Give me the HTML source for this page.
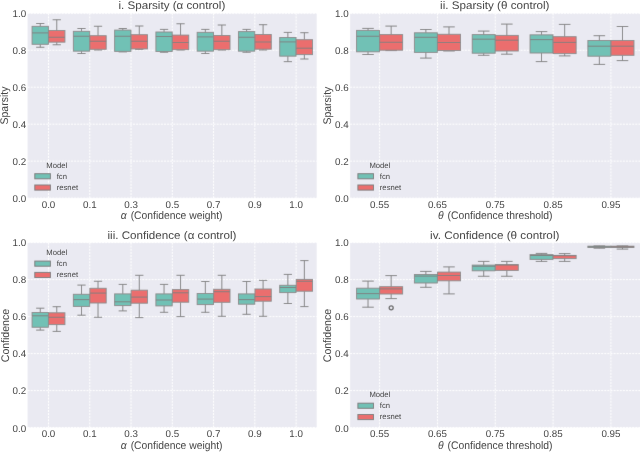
<!DOCTYPE html>
<html><head><meta charset="utf-8"><style>
html,body{margin:0;padding:0;background:#fff;}
svg{display:block;}
text{font-family:"Liberation Sans",sans-serif;fill:#454545;text-rendering:geometricPrecision;}
.tk{font-size:9.8px;}
.tt{font-size:11px;}
.lb{font-size:11px;}
.lg{font-size:7.7px;}
</style></head><body>
<svg width="640" height="454" viewBox="0 0 640 454">
<defs><filter id="bl" x="0" y="0" width="640" height="454" filterUnits="userSpaceOnUse"><feConvolveMatrix order="3" kernelMatrix="0.0052 0.0619 0.0052 0.0619 0.7314 0.0619 0.0052 0.0619 0.0052" edgeMode="duplicate" preserveAlpha="true"/></filter><filter id="blt" x="0" y="0" width="640" height="454" filterUnits="userSpaceOnUse"><feConvolveMatrix order="3" kernelMatrix="0.0000 0.0038 0.0000 0.0038 0.9847 0.0038 0.0000 0.0038 0.0000" edgeMode="duplicate"/></filter></defs>
<rect width="640" height="454" fill="#fff"/>
<g filter="url(#bl)">
<rect width="640" height="454" fill="#fff"/>
<rect x="27.6" y="13.3" width="289.1" height="184.8" fill="#eaeaf2"/>
<path d="M27.6 198.1H316.7M27.6 161.14H316.7M27.6 124.18H316.7M27.6 87.22H316.7M27.6 50.26H316.7M27.6 13.3H316.7M48.5 13.3V198.1M89.77 13.3V198.1M131.04 13.3V198.1M172.31 13.3V198.1M213.58 13.3V198.1M254.85 13.3V198.1M296.12 13.3V198.1" stroke="#fff" stroke-width="1" stroke-dasharray="2 1.1" fill="none"/>
<path d="M40.25 26.25V23.5M36.12 23.5H44.37M40.25 44.4V47.25M36.12 47.25H44.37" stroke="#7e7e7e" stroke-width="0.95" fill="none"/>
<rect x="32.09" y="26.35" width="16.31" height="17.95" fill="#71c1b5" stroke="#8a8a8a" stroke-width="0.95"/>
<path d="M32.09 32.9H48.4" stroke="#7e7e7e" stroke-width="0.95"/>
<path d="M56.75 30.4V19.75M52.63 19.75H60.88M56.75 42.25V44.75M52.63 44.75H60.88" stroke="#7e7e7e" stroke-width="0.95" fill="none"/>
<rect x="48.6" y="30.5" width="16.31" height="11.65" fill="#eb6e6e" stroke="#8a8a8a" stroke-width="0.95"/>
<path d="M48.6 37.25H64.91" stroke="#7e7e7e" stroke-width="0.95"/>
<path d="M81.52 31.25V28.5M77.39 28.5H85.64M81.52 51.25V53.5M77.39 53.5H85.64" stroke="#7e7e7e" stroke-width="0.95" fill="none"/>
<rect x="73.36" y="31.35" width="16.31" height="19.8" fill="#71c1b5" stroke="#8a8a8a" stroke-width="0.95"/>
<path d="M73.36 36.25H89.67" stroke="#7e7e7e" stroke-width="0.95"/>
<path d="M98.02 35.6V26.25M93.9 26.25H102.15M98.02 49.4V50M93.9 50H102.15" stroke="#7e7e7e" stroke-width="0.95" fill="none"/>
<rect x="89.87" y="35.7" width="16.31" height="13.6" fill="#eb6e6e" stroke="#8a8a8a" stroke-width="0.95"/>
<path d="M89.87 41.25H106.18" stroke="#7e7e7e" stroke-width="0.95"/>
<path d="M122.79 30V28.5M118.66 28.5H126.91M122.79 51.5V51.9M118.66 51.9H126.91" stroke="#7e7e7e" stroke-width="0.95" fill="none"/>
<rect x="114.63" y="30.1" width="16.31" height="21.3" fill="#71c1b5" stroke="#8a8a8a" stroke-width="0.95"/>
<path d="M114.63 36.25H130.94" stroke="#7e7e7e" stroke-width="0.95"/>
<path d="M139.29 34.6V26M135.17 26H143.42M139.29 49V49.4M135.17 49.4H143.42" stroke="#7e7e7e" stroke-width="0.95" fill="none"/>
<rect x="131.14" y="34.7" width="16.31" height="14.2" fill="#eb6e6e" stroke="#8a8a8a" stroke-width="0.95"/>
<path d="M131.14 41.25H147.45" stroke="#7e7e7e" stroke-width="0.95"/>
<path d="M164.06 31.9V29.4M159.93 29.4H168.18M164.06 51.6V52.25M159.93 52.25H168.18" stroke="#7e7e7e" stroke-width="0.95" fill="none"/>
<rect x="155.9" y="32" width="16.31" height="19.5" fill="#71c1b5" stroke="#8a8a8a" stroke-width="0.95"/>
<path d="M155.9 36.5H172.21" stroke="#7e7e7e" stroke-width="0.95"/>
<path d="M180.56 35V23.75M176.44 23.75H184.69M180.56 49.75V50M176.44 50H184.69" stroke="#7e7e7e" stroke-width="0.95" fill="none"/>
<rect x="172.41" y="35.1" width="16.31" height="14.55" fill="#eb6e6e" stroke="#8a8a8a" stroke-width="0.95"/>
<path d="M172.41 42.5H188.72" stroke="#7e7e7e" stroke-width="0.95"/>
<path d="M205.33 32.25V29.4M201.2 29.4H209.45M205.33 51.25V53.5M201.2 53.5H209.45" stroke="#7e7e7e" stroke-width="0.95" fill="none"/>
<rect x="197.17" y="32.35" width="16.31" height="18.8" fill="#71c1b5" stroke="#8a8a8a" stroke-width="0.95"/>
<path d="M197.17 36.9H213.48" stroke="#7e7e7e" stroke-width="0.95"/>
<path d="M221.83 35.4V25M217.71 25H225.96M221.83 49.75V50M217.71 50H225.96" stroke="#7e7e7e" stroke-width="0.95" fill="none"/>
<rect x="213.68" y="35.5" width="16.31" height="14.15" fill="#eb6e6e" stroke="#8a8a8a" stroke-width="0.95"/>
<path d="M213.68 41.25H229.99" stroke="#7e7e7e" stroke-width="0.95"/>
<path d="M246.6 31.5V29.4M242.47 29.4H250.72M246.6 51.25V52.25M242.47 52.25H250.72" stroke="#7e7e7e" stroke-width="0.95" fill="none"/>
<rect x="238.44" y="31.6" width="16.31" height="19.55" fill="#71c1b5" stroke="#8a8a8a" stroke-width="0.95"/>
<path d="M238.44 37.25H254.75" stroke="#7e7e7e" stroke-width="0.95"/>
<path d="M263.1 34.4V24.7M258.98 24.7H267.23M263.1 49.3V50M258.98 50H267.23" stroke="#7e7e7e" stroke-width="0.95" fill="none"/>
<rect x="254.95" y="34.5" width="16.31" height="14.7" fill="#eb6e6e" stroke="#8a8a8a" stroke-width="0.95"/>
<path d="M254.95 42H271.26" stroke="#7e7e7e" stroke-width="0.95"/>
<path d="M287.87 37.4V32.4M283.74 32.4H291.99M287.87 56.25V61.65M283.74 61.65H291.99" stroke="#7e7e7e" stroke-width="0.95" fill="none"/>
<rect x="279.71" y="37.5" width="16.31" height="18.65" fill="#71c1b5" stroke="#8a8a8a" stroke-width="0.95"/>
<path d="M279.71 41.9H296.02" stroke="#7e7e7e" stroke-width="0.95"/>
<path d="M304.37 39.6V32.7M300.25 32.7H308.5M304.37 54.7V59M300.25 59H308.5" stroke="#7e7e7e" stroke-width="0.95" fill="none"/>
<rect x="296.22" y="39.7" width="16.31" height="14.9" fill="#eb6e6e" stroke="#8a8a8a" stroke-width="0.95"/>
<path d="M296.22 48.2H312.53" stroke="#7e7e7e" stroke-width="0.95"/>
<rect x="34.8" y="173.7" width="15.6" height="5.1" fill="#71c1b5" stroke="#7c7c7c" stroke-width="1.0"/>
<rect x="34.8" y="185" width="15.6" height="5.1" fill="#eb6e6e" stroke="#7c7c7c" stroke-width="1.0"/>
<rect x="350.1" y="13.3" width="289.9" height="184.8" fill="#eaeaf2"/>
<path d="M350.1 198.1H640M350.1 161.14H640M350.1 124.18H640M350.1 87.22H640M350.1 50.26H640M350.1 13.3H640M379.6 13.3V198.1M437.43 13.3V198.1M495.26 13.3V198.1M553.09 13.3V198.1M610.92 13.3V198.1" stroke="#fff" stroke-width="1" stroke-dasharray="2 1.1" fill="none"/>
<path d="M368.03 30.3V28.4M362.25 28.4H373.82M368.03 51.9V54.5M362.25 54.5H373.82" stroke="#7e7e7e" stroke-width="0.95" fill="none"/>
<rect x="356.57" y="30.4" width="22.93" height="21.4" fill="#71c1b5" stroke="#8a8a8a" stroke-width="0.95"/>
<path d="M356.57 36.25H379.5" stroke="#7e7e7e" stroke-width="0.95"/>
<path d="M391.17 34.5V26.1M385.38 26.1H396.95M391.17 50.3V50.6M385.38 50.6H396.95" stroke="#7e7e7e" stroke-width="0.95" fill="none"/>
<rect x="379.7" y="34.6" width="22.93" height="15.6" fill="#eb6e6e" stroke="#8a8a8a" stroke-width="0.95"/>
<path d="M379.7 42.3H402.63" stroke="#7e7e7e" stroke-width="0.95"/>
<path d="M425.86 32.7V29.5M420.08 29.5H431.65M425.86 52.5V58.1M420.08 58.1H431.65" stroke="#7e7e7e" stroke-width="0.95" fill="none"/>
<rect x="414.4" y="32.8" width="22.93" height="19.6" fill="#71c1b5" stroke="#8a8a8a" stroke-width="0.95"/>
<path d="M414.4 37.3H437.33" stroke="#7e7e7e" stroke-width="0.95"/>
<path d="M449 34.2V26.9M443.21 26.9H454.78M449 50.6V51M443.21 51H454.78" stroke="#7e7e7e" stroke-width="0.95" fill="none"/>
<rect x="437.53" y="34.3" width="22.93" height="16.2" fill="#eb6e6e" stroke="#8a8a8a" stroke-width="0.95"/>
<path d="M437.53 42.5H460.46" stroke="#7e7e7e" stroke-width="0.95"/>
<path d="M483.69 34.5V31.1M477.91 31.1H489.48M483.69 53.3V55.3M477.91 55.3H489.48" stroke="#7e7e7e" stroke-width="0.95" fill="none"/>
<rect x="472.23" y="34.6" width="22.93" height="18.6" fill="#71c1b5" stroke="#8a8a8a" stroke-width="0.95"/>
<path d="M472.23 39.2H495.16" stroke="#7e7e7e" stroke-width="0.95"/>
<path d="M506.83 35.3V24.1M501.04 24.1H512.61M506.83 51.1V54.2M501.04 54.2H512.61" stroke="#7e7e7e" stroke-width="0.95" fill="none"/>
<rect x="495.36" y="35.4" width="22.93" height="15.6" fill="#eb6e6e" stroke="#8a8a8a" stroke-width="0.95"/>
<path d="M495.36 40.2H518.29" stroke="#7e7e7e" stroke-width="0.95"/>
<path d="M541.52 34.75V31.6M535.74 31.6H547.31M541.52 53.1V61.6M535.74 61.6H547.31" stroke="#7e7e7e" stroke-width="0.95" fill="none"/>
<rect x="530.06" y="34.85" width="22.93" height="18.15" fill="#71c1b5" stroke="#8a8a8a" stroke-width="0.95"/>
<path d="M530.06 39.6H552.99" stroke="#7e7e7e" stroke-width="0.95"/>
<path d="M564.66 36.6V24.4M558.87 24.4H570.44M564.66 53.7V55.9M558.87 55.9H570.44" stroke="#7e7e7e" stroke-width="0.95" fill="none"/>
<rect x="553.19" y="36.7" width="22.93" height="16.9" fill="#eb6e6e" stroke="#8a8a8a" stroke-width="0.95"/>
<path d="M553.19 42.4H576.12" stroke="#7e7e7e" stroke-width="0.95"/>
<path d="M599.35 40.4V35.7M593.57 35.7H605.14M599.35 56.3V64.4M593.57 64.4H605.14" stroke="#7e7e7e" stroke-width="0.95" fill="none"/>
<rect x="587.89" y="40.5" width="22.93" height="15.7" fill="#71c1b5" stroke="#8a8a8a" stroke-width="0.95"/>
<path d="M587.89 46.2H610.82" stroke="#7e7e7e" stroke-width="0.95"/>
<path d="M622.49 40.4V26.5M616.7 26.5H628.27M622.49 55.4V60.6M616.7 60.6H628.27" stroke="#7e7e7e" stroke-width="0.95" fill="none"/>
<rect x="611.02" y="40.5" width="22.93" height="14.8" fill="#eb6e6e" stroke="#8a8a8a" stroke-width="0.95"/>
<path d="M611.02 46.2H633.95" stroke="#7e7e7e" stroke-width="0.95"/>
<rect x="357.9" y="173.7" width="15.6" height="5.1" fill="#71c1b5" stroke="#7c7c7c" stroke-width="1.0"/>
<rect x="357.9" y="185" width="15.6" height="5.1" fill="#eb6e6e" stroke="#7c7c7c" stroke-width="1.0"/>
<rect x="27.6" y="242.6" width="289.1" height="185" fill="#eaeaf2"/>
<path d="M27.6 427.6H316.7M27.6 390.6H316.7M27.6 353.6H316.7M27.6 316.6H316.7M27.6 279.6H316.7M27.6 242.6H316.7M48.5 242.6V427.6M89.77 242.6V427.6M131.04 242.6V427.6M172.31 242.6V427.6M213.58 242.6V427.6M254.85 242.6V427.6M296.12 242.6V427.6" stroke="#fff" stroke-width="1" stroke-dasharray="2 1.1" fill="none"/>
<path d="M40.25 312.4V308.2M36.12 308.2H44.37M40.25 327.35V330.1M36.12 330.1H44.37" stroke="#7e7e7e" stroke-width="0.95" fill="none"/>
<rect x="32.09" y="312.5" width="16.31" height="14.75" fill="#71c1b5" stroke="#8a8a8a" stroke-width="0.95"/>
<path d="M32.09 315.8H48.4" stroke="#7e7e7e" stroke-width="0.95"/>
<path d="M56.75 312.7V306.7M52.63 306.7H60.88M56.75 324.7V331.4M52.63 331.4H60.88" stroke="#7e7e7e" stroke-width="0.95" fill="none"/>
<rect x="48.6" y="312.8" width="16.31" height="11.8" fill="#eb6e6e" stroke="#8a8a8a" stroke-width="0.95"/>
<path d="M48.6 317.3H64.91" stroke="#7e7e7e" stroke-width="0.95"/>
<path d="M81.52 294.2V285.1M77.39 285.1H85.64M81.52 306.5V315.2M77.39 315.2H85.64" stroke="#7e7e7e" stroke-width="0.95" fill="none"/>
<rect x="73.36" y="294.3" width="16.31" height="12.1" fill="#71c1b5" stroke="#8a8a8a" stroke-width="0.95"/>
<path d="M73.36 299.6H89.67" stroke="#7e7e7e" stroke-width="0.95"/>
<path d="M98.02 288.2V281.25M93.9 281.25H102.15M98.02 303.1V317.3M93.9 317.3H102.15" stroke="#7e7e7e" stroke-width="0.95" fill="none"/>
<rect x="89.87" y="288.3" width="16.31" height="14.7" fill="#eb6e6e" stroke="#8a8a8a" stroke-width="0.95"/>
<path d="M89.87 293.1H106.18" stroke="#7e7e7e" stroke-width="0.95"/>
<path d="M122.79 293.8V284.4M118.66 284.4H126.91M122.79 305.7V310.9M118.66 310.9H126.91" stroke="#7e7e7e" stroke-width="0.95" fill="none"/>
<rect x="114.63" y="293.9" width="16.31" height="11.7" fill="#71c1b5" stroke="#8a8a8a" stroke-width="0.95"/>
<path d="M114.63 301.8H130.94" stroke="#7e7e7e" stroke-width="0.95"/>
<path d="M139.29 290.1V275.3M135.17 275.3H143.42M139.29 303.3V317.6M135.17 317.6H143.42" stroke="#7e7e7e" stroke-width="0.95" fill="none"/>
<rect x="131.14" y="290.2" width="16.31" height="13" fill="#eb6e6e" stroke="#8a8a8a" stroke-width="0.95"/>
<path d="M131.14 297.1H147.45" stroke="#7e7e7e" stroke-width="0.95"/>
<path d="M164.06 293.8V284.4M159.93 284.4H168.18M164.06 306V312.3M159.93 312.3H168.18" stroke="#7e7e7e" stroke-width="0.95" fill="none"/>
<rect x="155.9" y="293.9" width="16.31" height="12" fill="#71c1b5" stroke="#8a8a8a" stroke-width="0.95"/>
<path d="M155.9 300H172.21" stroke="#7e7e7e" stroke-width="0.95"/>
<path d="M180.56 289.5V275.3M176.44 275.3H184.69M180.56 302.3V316.6M176.44 316.6H184.69" stroke="#7e7e7e" stroke-width="0.95" fill="none"/>
<rect x="172.41" y="289.6" width="16.31" height="12.6" fill="#eb6e6e" stroke="#8a8a8a" stroke-width="0.95"/>
<path d="M172.41 292.8H188.72" stroke="#7e7e7e" stroke-width="0.95"/>
<path d="M205.33 293.4V281.5M201.2 281.5H209.45M205.33 304.7V312.3M201.2 312.3H209.45" stroke="#7e7e7e" stroke-width="0.95" fill="none"/>
<rect x="197.17" y="293.5" width="16.31" height="11.1" fill="#71c1b5" stroke="#8a8a8a" stroke-width="0.95"/>
<path d="M197.17 299.1H213.48" stroke="#7e7e7e" stroke-width="0.95"/>
<path d="M221.83 289.2V275.3M217.71 275.3H225.96M221.83 302.4V316.3M217.71 316.3H225.96" stroke="#7e7e7e" stroke-width="0.95" fill="none"/>
<rect x="213.68" y="289.3" width="16.31" height="13" fill="#eb6e6e" stroke="#8a8a8a" stroke-width="0.95"/>
<path d="M213.68 291.7H229.99" stroke="#7e7e7e" stroke-width="0.95"/>
<path d="M246.6 293.8V281.5M242.47 281.5H250.72M246.6 304.3V314.3M242.47 314.3H250.72" stroke="#7e7e7e" stroke-width="0.95" fill="none"/>
<rect x="238.44" y="293.9" width="16.31" height="10.3" fill="#71c1b5" stroke="#8a8a8a" stroke-width="0.95"/>
<path d="M238.44 299.6H254.75" stroke="#7e7e7e" stroke-width="0.95"/>
<path d="M263.1 288.9V280.4M258.98 280.4H267.23M263.1 301.3V316.3M258.98 316.3H267.23" stroke="#7e7e7e" stroke-width="0.95" fill="none"/>
<rect x="254.95" y="289" width="16.31" height="12.2" fill="#eb6e6e" stroke="#8a8a8a" stroke-width="0.95"/>
<path d="M254.95 296.6H271.26" stroke="#7e7e7e" stroke-width="0.95"/>
<path d="M287.87 285.2V274.4M283.74 274.4H291.99M287.87 292.7V303.5M283.74 303.5H291.99" stroke="#7e7e7e" stroke-width="0.95" fill="none"/>
<rect x="279.71" y="285.3" width="16.31" height="7.3" fill="#71c1b5" stroke="#8a8a8a" stroke-width="0.95"/>
<path d="M279.71 287.5H296.02" stroke="#7e7e7e" stroke-width="0.95"/>
<path d="M304.37 279.3V260.6M300.25 260.6H308.5M304.37 291.3V306.6M300.25 306.6H308.5" stroke="#7e7e7e" stroke-width="0.95" fill="none"/>
<rect x="296.22" y="279.4" width="16.31" height="11.8" fill="#eb6e6e" stroke="#8a8a8a" stroke-width="0.95"/>
<path d="M296.22 281.3H312.53" stroke="#7e7e7e" stroke-width="0.95"/>
<rect x="34.8" y="261.1" width="15.6" height="5.1" fill="#71c1b5" stroke="#7c7c7c" stroke-width="1.0"/>
<rect x="34.8" y="272.4" width="15.6" height="5.1" fill="#eb6e6e" stroke="#7c7c7c" stroke-width="1.0"/>
<rect x="350.1" y="242.6" width="289.9" height="185" fill="#eaeaf2"/>
<path d="M350.1 427.6H640M350.1 390.6H640M350.1 353.6H640M350.1 316.6H640M350.1 279.6H640M350.1 242.6H640M379.6 242.6V427.6M437.43 242.6V427.6M495.26 242.6V427.6M553.09 242.6V427.6M610.92 242.6V427.6" stroke="#fff" stroke-width="1" stroke-dasharray="2 1.1" fill="none"/>
<path d="M368.03 288.1V281.1M362.25 281.1H373.82M368.03 299.1V307.2M362.25 307.2H373.82" stroke="#7e7e7e" stroke-width="0.95" fill="none"/>
<rect x="356.57" y="288.2" width="22.93" height="10.8" fill="#71c1b5" stroke="#8a8a8a" stroke-width="0.95"/>
<path d="M356.57 293.6H379.5" stroke="#7e7e7e" stroke-width="0.95"/>
<path d="M391.17 286.6V275.6M385.38 275.6H396.95M391.17 294.1V298.6M385.38 298.6H396.95" stroke="#7e7e7e" stroke-width="0.95" fill="none"/>
<rect x="379.7" y="286.7" width="22.93" height="7.3" fill="#eb6e6e" stroke="#8a8a8a" stroke-width="0.95"/>
<path d="M379.7 288.9H402.63" stroke="#7e7e7e" stroke-width="0.95"/>
<path d="M425.86 274.4V271.4M420.08 271.4H431.65M425.86 283.1V287.3M420.08 287.3H431.65" stroke="#7e7e7e" stroke-width="0.95" fill="none"/>
<rect x="414.4" y="274.5" width="22.93" height="8.5" fill="#71c1b5" stroke="#8a8a8a" stroke-width="0.95"/>
<path d="M414.4 276.1H437.33" stroke="#7e7e7e" stroke-width="0.95"/>
<path d="M449 272V266.9M443.21 266.9H454.78M449 280.9V293.9M443.21 293.9H454.78" stroke="#7e7e7e" stroke-width="0.95" fill="none"/>
<rect x="437.53" y="272.1" width="22.93" height="8.7" fill="#eb6e6e" stroke="#8a8a8a" stroke-width="0.95"/>
<path d="M437.53 275.5H460.46" stroke="#7e7e7e" stroke-width="0.95"/>
<path d="M483.69 265V261.4M477.91 261.4H489.48M483.69 270.9V276.25M477.91 276.25H489.48" stroke="#7e7e7e" stroke-width="0.95" fill="none"/>
<rect x="472.23" y="265.1" width="22.93" height="5.7" fill="#71c1b5" stroke="#8a8a8a" stroke-width="0.95"/>
<path d="M472.23 266.25H495.16" stroke="#7e7e7e" stroke-width="0.95"/>
<path d="M506.83 264.5V261.4M501.04 261.4H512.61M506.83 270.5V276.25M501.04 276.25H512.61" stroke="#7e7e7e" stroke-width="0.95" fill="none"/>
<rect x="495.36" y="264.6" width="22.93" height="5.8" fill="#eb6e6e" stroke="#8a8a8a" stroke-width="0.95"/>
<path d="M495.36 265H518.29" stroke="#7e7e7e" stroke-width="0.95"/>
<path d="M541.52 254.5V253.4M535.74 253.4H547.31M541.52 259.5V261.4M535.74 261.4H547.31" stroke="#7e7e7e" stroke-width="0.95" fill="none"/>
<rect x="530.06" y="254.6" width="22.93" height="4.8" fill="#71c1b5" stroke="#8a8a8a" stroke-width="0.95"/>
<path d="M530.06 255.5H552.99" stroke="#7e7e7e" stroke-width="0.95"/>
<path d="M564.66 255.3V253.6M558.87 253.6H570.44M564.66 258.7V261.4M558.87 261.4H570.44" stroke="#7e7e7e" stroke-width="0.95" fill="none"/>
<rect x="553.19" y="255.4" width="22.93" height="3.2" fill="#eb6e6e" stroke="#8a8a8a" stroke-width="0.95"/>
<path d="M553.19 255.7H576.12" stroke="#7e7e7e" stroke-width="0.95"/>
<path d="M599.35 246.1V245.9M593.57 245.9H605.14M599.35 247.6V248.2M593.57 248.2H605.14" stroke="#7e7e7e" stroke-width="0.95" fill="none"/>
<rect x="587.89" y="246.2" width="22.93" height="1.3" fill="#71c1b5" stroke="#8a8a8a" stroke-width="0.95"/>
<path d="M587.89 246.8H610.82" stroke="#7e7e7e" stroke-width="0.95"/>
<path d="M622.49 246.1V245.9M616.7 245.9H628.27M622.49 247.6V249.1M616.7 249.1H628.27" stroke="#7e7e7e" stroke-width="0.95" fill="none"/>
<rect x="611.02" y="246.2" width="22.93" height="1.3" fill="#eb6e6e" stroke="#8a8a8a" stroke-width="0.95"/>
<path d="M611.02 246.8H633.95" stroke="#7e7e7e" stroke-width="0.95"/>
<circle cx="391.2" cy="307.8" r="2.0" fill="none" stroke="#666" stroke-width="1.3"/>
<rect x="357.9" y="403.2" width="15.6" height="5.1" fill="#71c1b5" stroke="#7c7c7c" stroke-width="1.0"/>
<rect x="357.9" y="414.5" width="15.6" height="5.1" fill="#eb6e6e" stroke="#7c7c7c" stroke-width="1.0"/>
</g>
<g filter="url(#blt)">
<text transform="translate(26.1 201.6) scale(1 1.0)" class="tk" text-anchor="end">0.0</text>
<text transform="translate(26.1 164.62) scale(1 1.0)" class="tk" text-anchor="end">0.2</text>
<text transform="translate(26.1 127.64) scale(1 1.0)" class="tk" text-anchor="end">0.4</text>
<text transform="translate(26.1 90.66) scale(1 1.0)" class="tk" text-anchor="end">0.6</text>
<text transform="translate(26.1 53.68) scale(1 1.0)" class="tk" text-anchor="end">0.8</text>
<text transform="translate(26.1 16.7) scale(1 1.0)" class="tk" text-anchor="end">1.0</text>
<text transform="translate(48.5 208) scale(1 1.0)" class="tk" text-anchor="middle">0.0</text>
<text transform="translate(89.77 208) scale(1 1.0)" class="tk" text-anchor="middle">0.1</text>
<text transform="translate(131.04 208) scale(1 1.0)" class="tk" text-anchor="middle">0.3</text>
<text transform="translate(172.31 208) scale(1 1.0)" class="tk" text-anchor="middle">0.5</text>
<text transform="translate(213.58 208) scale(1 1.0)" class="tk" text-anchor="middle">0.7</text>
<text transform="translate(254.85 208) scale(1 1.0)" class="tk" text-anchor="middle">0.9</text>
<text transform="translate(296.12 208) scale(1 1.0)" class="tk" text-anchor="middle">1.0</text>
<text x="171.85" y="8.9" class="tt" text-anchor="middle" textLength="106.9" lengthAdjust="spacingAndGlyphs">i. Sparsity (α control)</text>
<text x="171.62" y="218.9" class="lb" text-anchor="middle" textLength="101.75" lengthAdjust="spacingAndGlyphs"><tspan font-style="italic">α</tspan><tspan dx="1.2"> (Confidence weight)</tspan></text>
<text transform="translate(7.8 105.55) rotate(-90)" class="lb" text-anchor="middle" textLength="37.9" lengthAdjust="spacingAndGlyphs">Sparsity</text>
<text x="46.3" y="167.8" class="lg">Model</text>
<text x="56.7" y="178.5" class="lg">fcn</text>
<text x="56.7" y="189.9" class="lg">resnet</text>
<text transform="translate(348.6 201.6) scale(1 1.0)" class="tk" text-anchor="end">0.0</text>
<text transform="translate(348.6 164.62) scale(1 1.0)" class="tk" text-anchor="end">0.2</text>
<text transform="translate(348.6 127.64) scale(1 1.0)" class="tk" text-anchor="end">0.4</text>
<text transform="translate(348.6 90.66) scale(1 1.0)" class="tk" text-anchor="end">0.6</text>
<text transform="translate(348.6 53.68) scale(1 1.0)" class="tk" text-anchor="end">0.8</text>
<text transform="translate(348.6 16.7) scale(1 1.0)" class="tk" text-anchor="end">1.0</text>
<text transform="translate(379.6 208) scale(1 1.0)" class="tk" text-anchor="middle">0.55</text>
<text transform="translate(437.43 208) scale(1 1.0)" class="tk" text-anchor="middle">0.65</text>
<text transform="translate(495.26 208) scale(1 1.0)" class="tk" text-anchor="middle">0.75</text>
<text transform="translate(553.09 208) scale(1 1.0)" class="tk" text-anchor="middle">0.85</text>
<text transform="translate(610.92 208) scale(1 1.0)" class="tk" text-anchor="middle">0.95</text>
<text x="494.8" y="8.9" class="tt" text-anchor="middle" textLength="109.4" lengthAdjust="spacingAndGlyphs">ii. Sparsity (θ control)</text>
<text x="495.2" y="218.9" class="lb" text-anchor="middle" textLength="114.6" lengthAdjust="spacingAndGlyphs"><tspan font-style="italic">θ</tspan><tspan dx="1.2"> (Confidence threshold)</tspan></text>
<text transform="translate(330.7 105.65) rotate(-90)" class="lb" text-anchor="middle" textLength="37.9" lengthAdjust="spacingAndGlyphs">Sparsity</text>
<text x="369.4" y="167.8" class="lg">Model</text>
<text x="379.8" y="178.5" class="lg">fcn</text>
<text x="379.8" y="189.9" class="lg">resnet</text>
<text transform="translate(26.1 431.6) scale(1 1.0)" class="tk" text-anchor="end">0.0</text>
<text transform="translate(26.1 394.43) scale(1 1.0)" class="tk" text-anchor="end">0.2</text>
<text transform="translate(26.1 357.26) scale(1 1.0)" class="tk" text-anchor="end">0.4</text>
<text transform="translate(26.1 320.09) scale(1 1.0)" class="tk" text-anchor="end">0.6</text>
<text transform="translate(26.1 282.92) scale(1 1.0)" class="tk" text-anchor="end">0.8</text>
<text transform="translate(26.1 245.75) scale(1 1.0)" class="tk" text-anchor="end">1.0</text>
<text transform="translate(48.5 437.1) scale(1 1.0)" class="tk" text-anchor="middle">0.0</text>
<text transform="translate(89.77 437.1) scale(1 1.0)" class="tk" text-anchor="middle">0.1</text>
<text transform="translate(131.04 437.1) scale(1 1.0)" class="tk" text-anchor="middle">0.3</text>
<text transform="translate(172.31 437.1) scale(1 1.0)" class="tk" text-anchor="middle">0.5</text>
<text transform="translate(213.58 437.1) scale(1 1.0)" class="tk" text-anchor="middle">0.7</text>
<text transform="translate(254.85 437.1) scale(1 1.0)" class="tk" text-anchor="middle">0.9</text>
<text transform="translate(296.12 437.1) scale(1 1.0)" class="tk" text-anchor="middle">1.0</text>
<text x="171.95" y="238.8" class="tt" text-anchor="middle" textLength="128.9" lengthAdjust="spacingAndGlyphs">iii. Confidence (α control)</text>
<text x="171.62" y="449.3" class="lb" text-anchor="middle" textLength="101.75" lengthAdjust="spacingAndGlyphs"><tspan font-style="italic">α</tspan><tspan dx="1.2"> (Confidence weight)</tspan></text>
<text transform="translate(8.6 335.6) rotate(-90)" class="lb" text-anchor="middle" textLength="53.2" lengthAdjust="spacingAndGlyphs">Confidence</text>
<text x="46.3" y="255.2" class="lg">Model</text>
<text x="56.7" y="265.9" class="lg">fcn</text>
<text x="56.7" y="277.3" class="lg">resnet</text>
<text transform="translate(348.6 431.6) scale(1 1.0)" class="tk" text-anchor="end">0.0</text>
<text transform="translate(348.6 394.43) scale(1 1.0)" class="tk" text-anchor="end">0.2</text>
<text transform="translate(348.6 357.26) scale(1 1.0)" class="tk" text-anchor="end">0.4</text>
<text transform="translate(348.6 320.09) scale(1 1.0)" class="tk" text-anchor="end">0.6</text>
<text transform="translate(348.6 282.92) scale(1 1.0)" class="tk" text-anchor="end">0.8</text>
<text transform="translate(348.6 245.75) scale(1 1.0)" class="tk" text-anchor="end">1.0</text>
<text transform="translate(379.6 437.1) scale(1 1.0)" class="tk" text-anchor="middle">0.55</text>
<text transform="translate(437.43 437.1) scale(1 1.0)" class="tk" text-anchor="middle">0.65</text>
<text transform="translate(495.26 437.1) scale(1 1.0)" class="tk" text-anchor="middle">0.75</text>
<text transform="translate(553.09 437.1) scale(1 1.0)" class="tk" text-anchor="middle">0.85</text>
<text transform="translate(610.92 437.1) scale(1 1.0)" class="tk" text-anchor="middle">0.95</text>
<text x="494.75" y="238.8" class="tt" text-anchor="middle" textLength="129.3" lengthAdjust="spacingAndGlyphs">iv. Confidence (θ control)</text>
<text x="495.2" y="449.3" class="lb" text-anchor="middle" textLength="114.6" lengthAdjust="spacingAndGlyphs"><tspan font-style="italic">θ</tspan><tspan dx="1.2"> (Confidence threshold)</tspan></text>
<text transform="translate(330.8 335.6) rotate(-90)" class="lb" text-anchor="middle" textLength="53.2" lengthAdjust="spacingAndGlyphs">Confidence</text>
<text x="369.4" y="397.3" class="lg">Model</text>
<text x="379.8" y="408" class="lg">fcn</text>
<text x="379.8" y="419.4" class="lg">resnet</text>
</g>
</svg>
</body></html>
